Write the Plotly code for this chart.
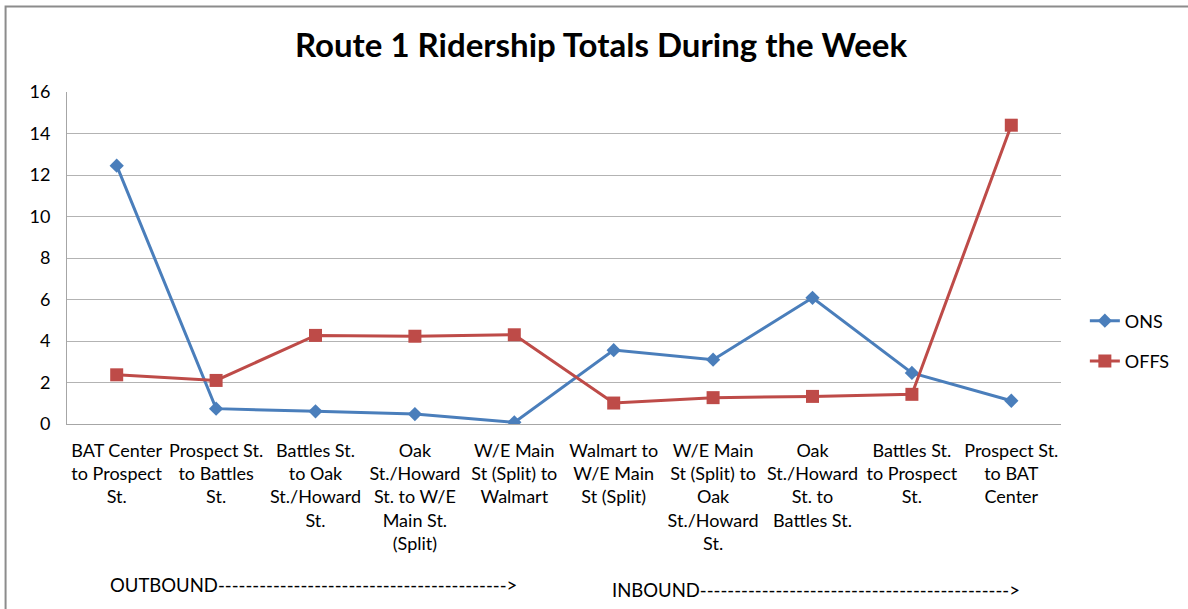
import plotly.graph_objects as go

categories = [
    "BAT Center<br>to Prospect<br>St.",
    "Prospect St.<br>to Battles<br>St.",
    "Battles St.<br>to Oak<br>St./Howard<br>St.",
    "Oak<br>St./Howard<br>St. to W/E<br>Main St.<br>(Split)",
    "W/E Main<br>St (Split) to<br>Walmart",
    "Walmart to<br>W/E Main<br>St (Split)",
    "W/E Main<br>St (Split) to<br>Oak<br>St./Howard<br>St.",
    "Oak<br>St./Howard<br>St. to<br>Battles St.",
    "Battles St.<br>to Prospect<br>St.",
    "Prospect St.<br>to BAT<br>Center",
]
ons = [12.45, 0.74, 0.61, 0.48, 0.08, 3.56, 3.1, 6.08, 2.46, 1.12]
offs = [2.37, 2.1, 4.27, 4.23, 4.3, 1.01, 1.27, 1.33, 1.43, 14.4]

FONT = "Lato"
fig = go.Figure()
fig.add_trace(go.Scatter(x=categories, y=ons, name="ONS", mode="lines+markers",
                         legendgroup="a",
                         line=dict(color="#4A7EBB", width=3),
                         marker=dict(symbol="diamond", size=11, color="#4A7EBB")))
fig.add_trace(go.Scatter(x=categories, y=offs, name="OFFS", mode="lines+markers",
                         legendgroup="b",
                         line=dict(color="#BE4B48", width=3),
                         marker=dict(symbol="square", size=13, color="#BE4B48")))

fig.update_layout(
    width=1188, height=609,
    margin=dict(l=67, r=127, t=92, b=185, autoexpand=False),
    paper_bgcolor="white", plot_bgcolor="white",
    font=dict(family=FONT, size=18, color="#000000"),
    title=dict(text="<b>Route 1 Ridership Totals During the Week</b>",
               x=601 / 1188, xanchor="center", y=1 - 45 / 609, yanchor="middle",
               font=dict(family=FONT, size=33, color="#000000")),
    showlegend=True,
    legend=dict(x=1.024, xanchor="left", y=0.25, yanchor="middle",
                font=dict(family=FONT, size=18), tracegroupgap=14,
                bgcolor="rgba(0,0,0,0)"),
    xaxis=dict(type="category", range=[-0.5, len(categories) - 0.5],
               showgrid=False, showline=True, linecolor="#A6A6A6",
               linewidth=1, ticks="", tickfont=dict(family=FONT, size=18),
               tickangle=0, ticklabelstandoff=10),
    yaxis=dict(range=[0, 16], dtick=2, showgrid=True, gridcolor="#B3B3B3",
               gridwidth=1, showline=True, linecolor="#A6A6A6", linewidth=1,
               zeroline=False, ticks="", ticklabelstandoff=12,
               tickfont=dict(family=FONT, size=18)),
    shapes=[dict(type="rect", xref="paper", yref="paper",
                 x0=-0.0618, x1=1.15, y0=-0.6, y1=1.2575,
                 line=dict(color="#8C8C8C", width=2), fillcolor="rgba(0,0,0,0)")],
    annotations=[
        dict(text="OUTBOUND------------------------------------------>",
             xref="paper", yref="paper", x=(108 - 67) / 994, y=(424 - 585) / 332,
             xanchor="left", yanchor="middle", showarrow=False,
             font=dict(family=FONT, size=18.5)),
        dict(text="INBOUND--------------------------------------------->",
             xref="paper", yref="paper", x=(610 - 67) / 994, y=(424 - 590) / 332,
             xanchor="left", yanchor="middle", showarrow=False,
             font=dict(family=FONT, size=18.5)),
    ],
)

fig.write_html("out.html", config={"displayModeBar": False},
               post_script="document.body.style.margin='0';")
